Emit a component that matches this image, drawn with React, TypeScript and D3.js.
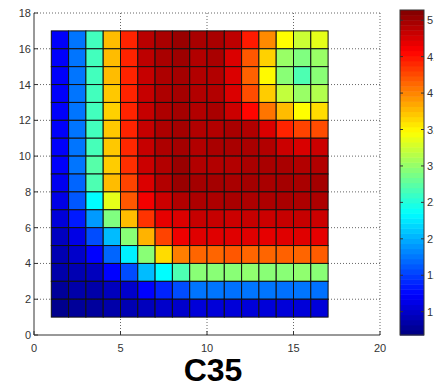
import React from "react";
import * as d3 from "d3";

// grid columns (x) and rows (y), rows listed from top (y=16) to bottom (y=1)
const colStarts = d3.range(1, 17);
const rowStarts = [16, 15, 14, 13, 12, 11, 10, 9, 8, 7, 6, 5, 4, 3, 2, 1];

const row16 = [1.22, 1.75, 2.64, 3.76, 4.43, 4.89, 4.96, 5.03, 4.96, 4.96, 4.87, 4.47, 3.98, 3.47, 3.24, 3.36];
const row15 = [1.22, 1.75, 2.64, 3.76, 4.43, 4.87, 4.96, 5.01, 4.92, 4.96, 4.74, 4.2, 3.67, 3.02, 2.91, 3.02];
const row14 = [1.22, 1.75, 2.64, 3.76, 4.43, 4.83, 4.94, 4.98, 4.92, 4.92, 4.74, 4.16, 3.49, 2.95, 2.69, 2.95];
const row13 = [1.22, 1.75, 2.64, 3.71, 4.43, 4.83, 4.94, 4.98, 4.92, 4.92, 4.74, 4.25, 3.69, 3.2, 3.02, 3.13];
const row12 = [1.22, 1.75, 2.64, 3.67, 4.43, 4.83, 4.94, 4.98, 4.92, 4.96, 4.81, 4.56, 4.07, 3.76, 3.47, 3.62];
const row11 = [1.22, 1.75, 2.64, 3.71, 4.43, 4.83, 4.94, 4.98, 4.92, 4.92, 4.96, 4.92, 4.74, 4.43, 4.29, 4.25];
const row10 = [1.22, 1.75, 2.66, 3.71, 4.41, 4.83, 4.94, 4.98, 4.92, 4.96, 4.96, 4.96, 4.92, 4.81, 4.75, 4.81];
const row9 = [1.22, 1.75, 2.73, 3.69, 4.38, 4.81, 4.92, 5.03, 4.92, 4.92, 4.92, 4.96, 4.96, 4.96, 4.92, 4.92];
const row8 = [1.17, 1.68, 2.69, 3.76, 4.29, 4.74, 4.92, 5.03, 4.98, 4.98, 4.96, 4.98, 4.96, 4.98, 4.96, 4.98];
const row7 = [1.13, 1.62, 2.35, 3.36, 4.2, 4.63, 4.81, 4.92, 4.94, 4.94, 4.96, 4.94, 4.94, 4.96, 4.94, 4.94];
const row6 = [1.07, 1.35, 1.91, 2.91, 3.76, 4.36, 4.69, 4.74, 4.83, 4.83, 4.81, 4.83, 4.81, 4.83, 4.83, 4.81];
const row5 = [0.96, 1.13, 1.57, 2.06, 2.95, 3.8, 4.29, 4.65, 4.72, 4.72, 4.72, 4.72, 4.69, 4.72, 4.72, 4.69];
const row4 = [0.9, 1.01, 1.24, 1.68, 2.29, 2.95, 3.62, 4.03, 4.14, 4.14, 4.2, 4.14, 4.14, 4.16, 4.14, 4.18];
const row3 = [0.86, 0.9, 0.95, 1.24, 1.57, 2.06, 2.35, 2.69, 2.95, 2.95, 2.95, 2.98, 2.95, 2.95, 2.98, 2.95];
const row2 = [0.79, 0.86, 0.86, 0.95, 1.01, 1.24, 1.39, 1.57, 1.75, 1.75, 1.73, 1.75, 1.75, 1.73, 1.75, 1.73];
const row1 = [0.74, 0.79, 0.81, 0.86, 0.9, 0.95, 1.01, 1.01, 1.07, 1.07, 1.07, 1.07, 1.07, 1.07, 1.07, 1.07];

const gridValues = [row16, row15, row14, row13, row12, row11, row10, row9, row8, row7, row6, row5, row4, row3, row2, row1];

const xTicks = [0, 5, 10, 15, 20];
const yTicks = [0, 2, 4, 6, 8, 10, 12, 14, 16, 18];
const cbarTicks = [1, 1.5, 2, 2.5, 3, 3.5, 4, 4.5, 5];
const cLimits = [0.68, 5.14];
const title = "C35";

const clamp = (v: number) => Math.max(0, Math.min(1, v));
function jet(t: number) {
  const r = clamp(Math.min(4 * t - 1.5, -4 * t + 4.5));
  const g = clamp(Math.min(4 * t - 0.5, -4 * t + 3.5));
  const b = clamp(Math.min(4 * t + 0.5, -4 * t + 2.5));
  return d3.rgb(r * 255, g * 255, b * 255).formatHex();
}

export default function App() {
  const W = 434;
  const H = 386;
  const x = d3.scaleLinear().domain([0, 20]).range([34, 380]);
  const y = d3.scaleLinear().domain([0, 18]).range([335, 13]);
  const norm = d3.scaleLinear().domain(cLimits).range([0, 1]).clamp(true);
  const cy = d3.scaleLinear().domain(cLimits).range([335, 10]);
  const cbX0 = 400;
  const cbX1 = 424;
  const nBands = 64;
  const bandVals = d3.range(nBands).map((i) => cLimits[0] + ((i + 0.5) / nBands) * (cLimits[1] - cLimits[0]));
  const bandH = (cy(cLimits[0]) - cy(cLimits[1])) / nBands;
  const font = "Arial, 'Liberation Sans', Helvetica, sans-serif";
  const gridColor = "#666";

  return (
    <svg
      width={W}
      height={H}
      style={{ position: "absolute", left: 0, top: 0, background: "#fff" }}
      fontFamily={font}
    >
      <rect x={0} y={0} width={W} height={H} fill="#fff" />
      {/* grid lines */}
      {xTicks.filter((t) => t > 0).map((t) => (
        <line key={"gx" + t} x1={x(t)} x2={x(t)} y1={y(0)} y2={y(18)} stroke={gridColor} strokeWidth={1} strokeDasharray="1,2" />
      ))}
      {yTicks.filter((t) => t > 0).map((t) => (
        <line key={"gy" + t} x1={x(0)} x2={x(20)} y1={y(t)} y2={y(t)} stroke={gridColor} strokeWidth={1} strokeDasharray="1,2" />
      ))}
      {/* cells */}
      {gridValues.map((row, ri) =>
        row.map((v, ci) => (
          <rect
            key={`c${ri}-${ci}`}
            x={x(colStarts[ci])}
            y={y(rowStarts[ri] + 1)}
            width={x(colStarts[ci] + 1) - x(colStarts[ci])}
            height={y(rowStarts[ri]) - y(rowStarts[ri] + 1)}
            fill={jet(norm(v))}
            stroke="#111"
            strokeWidth={1}
          />
        ))
      )}
      {/* axes lines */}
      <line x1={x(0)} x2={x(20)} y1={y(0)} y2={y(0)} stroke="#333" strokeWidth={1} />
      <line x1={x(0)} x2={x(0)} y1={y(0)} y2={y(18)} stroke="#333" strokeWidth={1} />
      {xTicks.map((t) => (
        <g key={"xt" + t}>
          <line x1={x(t)} x2={x(t)} y1={y(0)} y2={y(0) - 4} stroke="#333" />
          <text x={x(t)} y={352} fontSize={11} textAnchor="middle" fill="#333">
            {t}
          </text>
        </g>
      ))}
      {yTicks.map((t) => (
        <g key={"yt" + t}>
          <line x1={x(0)} x2={x(0) + 4} y1={y(t)} y2={y(t)} stroke="#333" />
          <text x={31} y={y(t) + 4} fontSize={11} textAnchor="end" fill="#333">
            {t}
          </text>
        </g>
      ))}
      {/* colorbar */}
      {bandVals.map((v, i) => (
        <rect key={"cb" + i} x={cbX0} y={cy(cLimits[0]) - (i + 1) * bandH} width={cbX1 - cbX0} height={bandH + 0.5} fill={jet(norm(v))} />
      ))}
      <rect x={cbX0} y={cy(cLimits[1])} width={cbX1 - cbX0} height={cy(cLimits[0]) - cy(cLimits[1])} fill="none" stroke="#333" />
      {cbarTicks.map((t) => (
        <g key={"ct" + t}>
          <line x1={cbX1} x2={cbX1 - 3} y1={cy(t)} y2={cy(t)} stroke="#333" />
          <line x1={cbX0} x2={cbX0 + 3} y1={cy(t)} y2={cy(t)} stroke="#333" />
          <text x={427} y={cy(t) + 4} fontSize={11} textAnchor="start" fill="#333">
            {String(t)}
          </text>
        </g>
      ))}
      <text x={213} y={381} fontSize={32} fontWeight="bold" textAnchor="middle" fill="#000">
        {title}
      </text>
    </svg>
  );
}
